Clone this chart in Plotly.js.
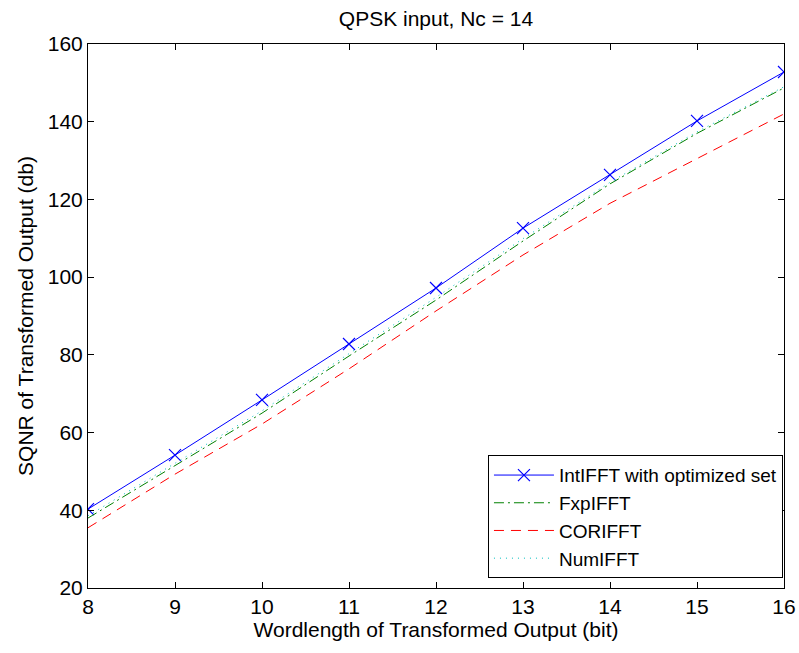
<!DOCTYPE html>
<html>
<head>
<meta charset="utf-8">
<script src="https://cdn.plot.ly/plotly-3.0.1.min.js"></script>
<style>html,body{margin:0;padding:0;background:#fff;}#chart{width:799px;height:653px;}</style>
</head>
<body>
<div id="chart"></div>
<script>
const wordlength = [8, 9, 10, 11, 12, 13, 14, 15, 16];
const intIFFT = [40.3, 54.2, 68.4, 82.8, 97.2, 112.6, 126.3, 140.2, 152.8];
const fxpIFFT = [38.0, 51.4, 65.0, 79.7, 94.1, 109.3, 124.0, 137.0, 148.7];
const corIFFT = [35.5, 49.3, 62.2, 76.4, 91.3, 105.7, 119.0, 130.4, 142.0];
const numIFFT = [38.6, 52.0, 65.6, 80.3, 94.8, 109.9, 124.4, 137.4, 149.0];
const seriesNames = ['IntIFFT with optimized set', 'FxpIFFT', 'CORIFFT', 'NumIFFT'];

const font = 'Liberation Sans, Arial, sans-serif';
const traces = [
  {x: wordlength, y: intIFFT, name: seriesNames[0], mode: 'lines+markers',
   line: {color: '#0000ff', width: 1}, marker: {symbol: 'x-thin-open', size: 12, line: {color: '#0000ff', width: 1.2}}},
  {x: wordlength, y: fxpIFFT, name: seriesNames[1], mode: 'lines',
   line: {color: '#008000', width: 1, dash: '10px,4px,2px,4px'}},
  {x: wordlength, y: corIFFT, name: seriesNames[2], mode: 'lines',
   line: {color: '#ff0000', width: 1, dash: '10px,7px'}},
  {x: wordlength, y: numIFFT, name: seriesNames[3], mode: 'lines',
   line: {color: '#00bfbf', width: 1, dash: '1px,5px'}}
];

const axisCommon = {
  showgrid: false, zeroline: false, showline: true, mirror: 'ticks',
  linecolor: '#000', linewidth: 1, ticks: 'inside', ticklen: 6, tickcolor: '#000',
  tickfont: {family: font, size: 21, color: '#000'}
};

const layout = {
  width: 799, height: 653,
  margin: {l: 88, r: 15, t: 44, b: 65},
  paper_bgcolor: '#fff', plot_bgcolor: '#fff',
  title: {text: 'QPSK input, Nc = 14', font: {family: font, size: 21, color: '#000'}, xref: 'paper', x: 0.5, xanchor: 'center', y: 0.972, yanchor: 'middle'},
  xaxis: Object.assign({}, axisCommon, {range: [8, 16], dtick: 1, tick0: 8,
    title: {text: 'Wordlength of Transformed Output (bit)', font: {family: font, size: 21, color: '#000'}, standoff: 3}}),
  yaxis: Object.assign({}, axisCommon, {range: [20, 160], dtick: 20, tick0: 20,
    title: {text: 'SQNR of Transformed Output (db)', font: {family: font, size: 21, color: '#000'}, standoff: 8}}),
  showlegend: true,
  legend: {x: 0.9985, xanchor: 'right', y: 0.018, yanchor: 'bottom',
    bgcolor: '#fff', bordercolor: '#000', borderwidth: 1,
    font: {family: font, size: 19, color: '#000'}, tracegroupgap: 0, itemwidth: 60}
};

Plotly.newPlot('chart', traces, layout, {displayModeBar: false, staticPlot: true});
</script>
</body>
</html>
